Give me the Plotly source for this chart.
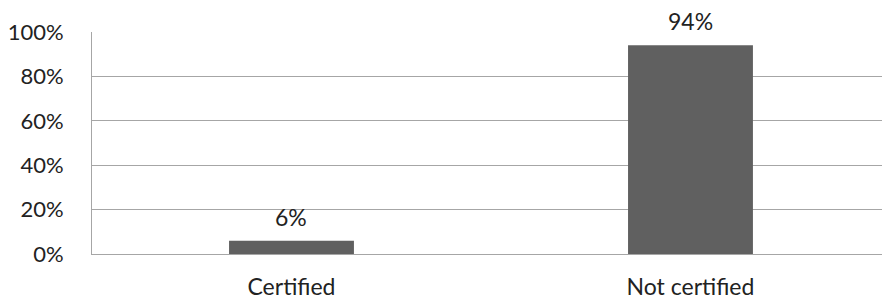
import plotly.graph_objects as go

categories = ["Certified", "Not certified"]
values = [6, 94]
labels = ["6%", "94%"]
tick_vals = [0, 20, 40, 60, 80, 100]
tick_text = ["0%", "20%", "40%", "60%", "80%", "100%"]

font = dict(family="Lato, Open Sans, sans-serif", size=23, color="#222222")

fig = go.Figure(go.Bar(
    x=[0, 1], y=values, width=0.313,
    marker=dict(color="#606060", line=dict(width=0)),
    hoverinfo="skip",
))

for i, (v, t) in enumerate(zip(values, labels)):
    fig.add_annotation(x=i, y=v, text=t, showarrow=False, yanchor="bottom",
                       yshift=8, font=font)

fig.update_layout(
    width=882, height=299,
    margin=dict(l=92, r=0, t=32, b=45, autoexpand=False),
    paper_bgcolor="white", plot_bgcolor="white",
    showlegend=False,
    font=font,
    xaxis=dict(range=[-0.5, 1.48], tickvals=[0, 1], ticktext=categories,
               tickfont=dict(size=23), automargin=False,
               showgrid=False, showline=True, linecolor="#a6a6a6", linewidth=1,
               ticks="", zeroline=False, ticklabelstandoff=12, fixedrange=True),
    yaxis=dict(range=[0, 100], tickvals=tick_vals, ticktext=tick_text,
               tickfont=dict(size=22), automargin=False,
               showgrid=True, gridcolor="#a6a6a6", gridwidth=1,
               showline=True, linecolor="#a6a6a6", linewidth=1,
               ticks="", zeroline=False, ticklabelstandoff=23, fixedrange=True),
)

fig.write_html(
    "out.html",
    config={"displayModeBar": False, "staticPlot": True},
    post_script=(
        "document.documentElement.style.overflow='hidden';"
        "document.documentElement.style.margin='0';"
        "document.body.style.margin='0';"
        "document.body.style.overflow='hidden';"
    ),
)
